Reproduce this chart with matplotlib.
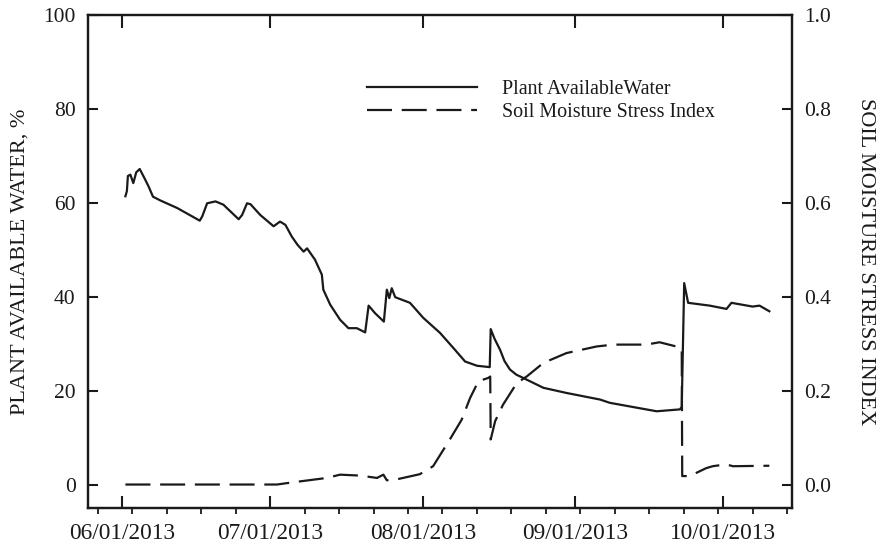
import pandas as pd
import matplotlib
matplotlib.use('Agg')
from matplotlib import pyplot as plt
import matplotlib.dates as mdates

# days after 06/01/2013
paw_days = [0.6, 0.9, 1.1, 1.6, 2.2, 2.8, 3.5, 4.3, 5.3, 6.2, 7.7, 11.1, 15.7, 16.2,
            17.2, 18.9, 20.5, 23.6, 24.3, 25.3, 26.0, 28.0, 30.7, 32.0, 33.1, 34.4,
            35.6, 36.8, 37.5, 39.1, 40.5, 40.8, 42.2, 44.2, 45.9, 47.6, 49.3, 50.0,
            51.3, 53.1, 53.7, 54.2, 54.7, 55.4, 58.4, 61.1, 64.5, 67.2, 69.6, 72.0,
            74.6, 74.8, 75.6, 76.7, 77.6, 78.7, 80.0, 81.4, 85.5, 90.2, 97.0, 99.0,
            108.5, 113.2, 113.6, 114.1, 114.9, 119.3, 122.7, 123.7, 128.0, 129.4, 131.4]
paw_vals = [61.4, 62.5, 65.7, 66.0, 64.2, 66.5, 67.2, 65.6, 63.5, 61.3, 60.5, 58.9, 56.2, 57.1,
            59.9, 60.3, 59.6, 56.5, 57.4, 59.9, 59.7, 57.4, 55.0, 56.0, 55.3, 52.8,
            51.0, 49.6, 50.3, 47.9, 44.7, 41.5, 38.3, 35.1, 33.3, 33.3, 32.4, 38.1,
            36.5, 34.7, 41.5, 39.7, 41.8, 39.9, 38.7, 35.5, 32.3, 29.1, 26.2, 25.3,
            25.0, 33.1, 31.0, 28.7, 26.3, 24.5, 23.4, 22.7, 20.6, 19.5, 18.1, 17.4,
            15.6, 16.0, 16.5, 42.9, 38.7, 38.1, 37.4, 38.7, 37.9, 38.1, 36.9]

smsi_days = [0.6, 31.4, 34.1, 41.5, 44.2, 48.3, 51.7, 53.0, 53.7, 55.7, 60.4, 63.1,
             66.5, 68.9, 70.6, 72.3, 74.3, 74.7, 74.8, 75.7, 77.3, 80.1, 82.1, 85.5,
             90.2, 96.3, 99.7, 106.4, 109.1, 112.5, 113.6, 113.7, 115.2, 118.6, 119.9,
             122.6, 124.0, 131.4]
smsi_vals = [0.0, 0.0, 0.004, 0.014, 0.021, 0.019, 0.014, 0.021, 0.009, 0.011, 0.022, 0.039,
             0.096, 0.138, 0.184, 0.220, 0.227, 0.230, 0.096, 0.135, 0.170, 0.216, 0.230, 0.259,
             0.280, 0.294, 0.298, 0.298, 0.303, 0.294, 0.290, 0.018, 0.018, 0.035, 0.039,
             0.043, 0.039, 0.040]

start = pd.Timestamp('2013-06-01')
paw_t = start + pd.to_timedelta(paw_days, unit='D')
smsi_t = start + pd.to_timedelta(smsi_days, unit='D')

ink = '#1a1a1a'
plt.rcParams['font.family'] = ['Liberation Serif', 'DejaVu Serif']
plt.rcParams['lines.scale_dashes'] = False

fig = plt.figure(figsize=(8.86, 5.48), dpi=100)
ax = fig.add_axes([88/886, 40/548, 704/886, 493/548])
ax2 = ax.twinx()

l1, = ax.plot(paw_t, paw_vals, color=ink, lw=1.6, label='Plant AvailableWater')
l2, = ax2.plot(smsi_t, smsi_vals, color=ink, lw=1.6, dashes=(18, 7),
               label='Soil Moisture Stress Index')

ax.set_xlim(pd.Timestamp('2013-05-25'), pd.Timestamp('2013-10-15'))
ax.set_ylim(-5, 100)
ax2.set_ylim(-0.05, 1.0)
ax.set_yticks([0, 20, 40, 60, 80, 100])
ax2.set_yticks([0.0, 0.2, 0.4, 0.6, 0.8, 1.0])
ax2.yaxis.set_major_formatter(matplotlib.ticker.FormatStrFormatter('%.1f'))

ax.xaxis.set_major_locator(mdates.MonthLocator())
ax.xaxis.set_major_formatter(mdates.DateFormatter('%m/%d/%Y'))
ax.xaxis.set_minor_locator(mdates.WeekdayLocator(byweekday=mdates.MO))

for a in (ax, ax2):
    for s in a.spines.values():
        s.set_linewidth(1.6)
        s.set_color(ink)

ax.tick_params(axis='x', which='major', direction='in', top=True, length=9, width=1.5,
               labelsize=16.8, pad=11, colors=ink)
ax.tick_params(axis='x', which='minor', direction='out', top=False, length=4, width=1.3, colors=ink)
ax.tick_params(axis='y', direction='in', length=7, width=1.5, labelsize=15.5, pad=9, colors=ink)
ax2.tick_params(axis='y', direction='in', length=7, width=1.5, labelsize=15.5, pad=9, colors=ink)

ax.set_ylabel('PLANT AVAILABLE WATER, %', fontsize=16, color=ink, labelpad=10)
ax2.set_ylabel('SOIL MOISTURE STRESS INDEX', fontsize=16, color=ink, rotation=270, labelpad=31)

ax.legend(handles=[l1, l2], loc='upper left', bbox_to_anchor=(0.396, 0.868), frameon=False,
          fontsize=14.4, handlelength=5.5, handletextpad=1.25, borderpad=0, borderaxespad=0,
          labelspacing=0.2, labelcolor=ink)

fig.savefig('out.png', dpi=100)
